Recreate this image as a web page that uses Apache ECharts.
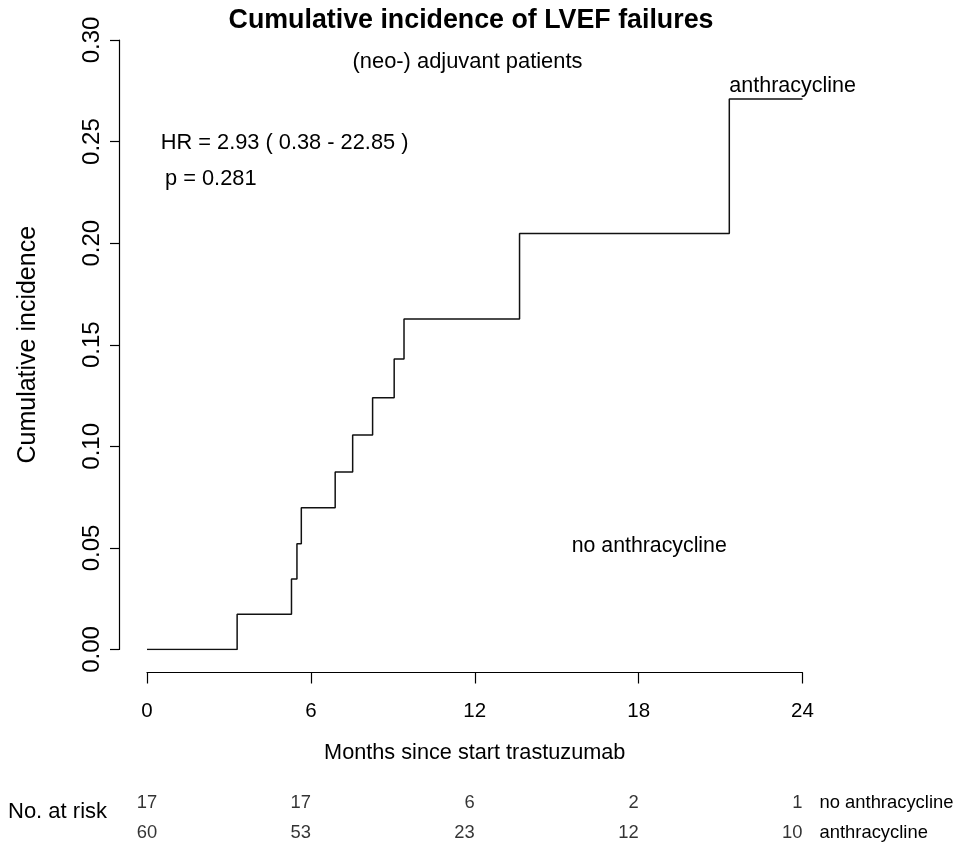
<!DOCTYPE html>
<html>
<head>
<meta charset="utf-8">
<script src="https://cdn.jsdelivr.net/npm/echarts@6/dist/echarts.min.js"></script>
<style>
  html, body { margin: 0; padding: 0; background: #fff; }
  #chart { width: 958px; height: 848px; }
</style>
</head>
<body>
<div id="chart"></div>
<script>
// Cumulative incidence step curve (anthracycline group)
const eventMonths = [0, 3.30, 5.29, 5.49, 5.65, 6.89, 7.53, 8.26, 9.05, 9.41, 13.64, 21.32, 24];
const incidence   = [0, 0.0173, 0.0347, 0.0521, 0.0698, 0.0874, 0.1056, 0.1239, 0.1430, 0.1627, 0.2047, 0.2710, 0.2710];

// Axis ticks
const monthTicks = [0, 6, 12, 18, 24];
const incidenceTicks = [0, 0.05, 0.10, 0.15, 0.20, 0.25, 0.30];

// Number at risk table
const riskGroups = ['no anthracycline', 'anthracycline'];
const riskNoAnthra = [17, 17, 6, 2, 1];
const riskAnthra = [60, 53, 23, 12, 10];

// Annotation text
const titleText = 'Cumulative incidence of LVEF failures';
const subtitleText = '(neo-) adjuvant patients';
const hrText = 'HR = 2.93 ( 0.38 - 22.85 )';
const pText = 'p = 0.281';

const FONT = '"Liberation Sans", Arial, Helvetica, sans-serif';

const curveData = eventMonths.map((m, i) => [m, incidence[i]]);

const riskData = [];
monthTicks.forEach((m, i) => {
  riskData.push({ value: [m, riskGroups[0], riskNoAnthra[i]], first: i === 0 });
  riskData.push({ value: [m, riskGroups[1], riskAnthra[i]], first: i === 0 });
});

const chart = echarts.init(document.getElementById('chart'), null, { renderer: 'canvas' });

chart.setOption({
  animation: false,
  backgroundColor: '#ffffff',
  textStyle: { fontFamily: FONT, color: '#000' },
  grid: [
    { left: 147, right: 155.5, top: 40, bottom: 198.5 },
    { left: 147, right: 155.5, top: 788, height: 60 }
  ],
  xAxis: [
    {
      type: 'value', gridIndex: 0,
      min: monthTicks[0], max: monthTicks[monthTicks.length - 1], interval: 6,
      offset: 23,
      axisLine: { show: true, onZero: false, lineStyle: { color: '#000', width: 1.2 } },
      axisTick: { show: true, length: 11, lineStyle: { color: '#000', width: 1.2 } },
      axisLabel: { show: true, margin: 28, fontSize: 20.5, color: '#000', fontFamily: FONT },
      splitLine: { show: false },
      name: 'Months since start trastuzumab',
      nameLocation: 'middle', nameGap: 70,
      nameTextStyle: { fontSize: 21.7, color: '#000', fontFamily: FONT }
    },
    {
      type: 'value', gridIndex: 1,
      min: monthTicks[0], max: monthTicks[monthTicks.length - 1], interval: 6,
      show: false
    }
  ],
  yAxis: [
    {
      type: 'value', gridIndex: 0,
      min: incidenceTicks[0], max: incidenceTicks[incidenceTicks.length - 1], interval: 0.05,
      offset: 28,
      axisLine: { show: true, onZero: false, lineStyle: { color: '#000', width: 1.2 } },
      axisTick: { show: true, length: 9, lineStyle: { color: '#000', width: 1.2 } },
      axisLabel: {
        show: true, rotate: 90, margin: 15, fontSize: 24, color: '#000', fontFamily: FONT,
        formatter: v => v.toFixed(2)
      },
      splitLine: { show: false },
      name: 'Cumulative incidence',
      nameLocation: 'middle', nameRotate: 90, nameGap: 78,
      nameTextStyle: { fontSize: 25, color: '#000', fontFamily: FONT }
    },
    {
      type: 'category', gridIndex: 1, position: 'right',
      data: riskGroups.slice().reverse(),
      axisLine: { show: false }, axisTick: { show: false },
      axisLabel: { show: true, margin: 17, fontSize: 18.4, color: '#000', fontFamily: FONT, align: 'left' },
      splitLine: { show: false }
    }
  ],
  title: {
    text: titleText,
    left: 471, top: 7, textAlign: 'center', padding: 0,
    textStyle: { fontSize: 26.8, fontWeight: 'bold', color: '#000', fontFamily: FONT }
  },
  graphic: [
    { type: 'text', x: 467.5, y: 62,
      style: { text: subtitleText, fill: '#000', font: '21.9px ' + FONT, align: 'center', verticalAlign: 'middle' } },
    { type: 'text', x: 160.7, y: 142.5,
      style: { text: hrText, fill: '#000', font: '21.8px ' + FONT, align: 'left', verticalAlign: 'middle' } },
    { type: 'text', x: 165, y: 179,
      style: { text: pText, fill: '#000', font: '21.8px ' + FONT, align: 'left', verticalAlign: 'middle' } },
    { type: 'text', x: 729.3, y: 86,
      style: { text: 'anthracycline', fill: '#000', font: '21.5px ' + FONT, align: 'left', verticalAlign: 'middle' } },
    { type: 'text', x: 571.7, y: 546,
      style: { text: 'no anthracycline', fill: '#000', font: '21.3px ' + FONT, align: 'left', verticalAlign: 'middle' } },
    { type: 'text', x: 8, y: 812,
      style: { text: 'No. at risk', fill: '#000', font: '22px ' + FONT, align: 'left', verticalAlign: 'middle' } }
  ],
  series: [
    {
      type: 'line', xAxisIndex: 0, yAxisIndex: 0,
      step: 'end', data: curveData,
      showSymbol: false, symbol: 'none',
      lineStyle: { color: '#111', width: 1.5 },
      silent: true
    },
    {
      type: 'scatter', xAxisIndex: 1, yAxisIndex: 1,
      symbolSize: 0.01,
      data: riskData.map(d => ({
        value: d.value,
        label: d.first
          ? { show: true, position: 'inside', distance: 0 }
          : { show: true, position: 'left', distance: 0 }
      })),
      label: {
        show: true, fontSize: 18.4, color: '#000', fontFamily: FONT,
        formatter: p => String(p.value[2])
      },
      silent: true
    }
  ]
});
</script>
</body>
</html>
